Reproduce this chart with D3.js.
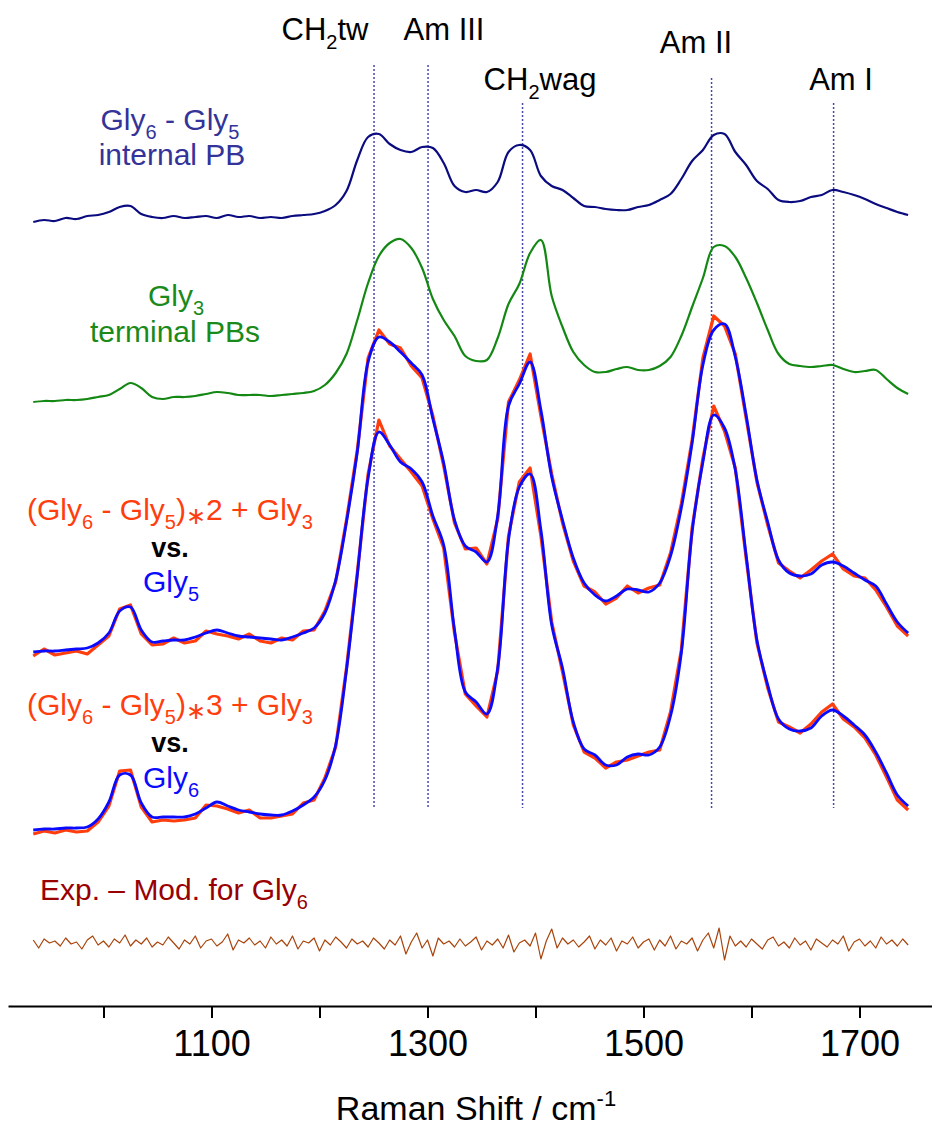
<!DOCTYPE html>
<html>
<head>
<meta charset="utf-8">
<script src="https://cdn.jsdelivr.net/npm/d3@7"></script>
<style>
  body { margin: 0; background: #fff; }
  svg { display: block; font-family: "Liberation Sans", Arial, sans-serif; }
  text { white-space: pre; }
</style>
</head>
<body>
<svg id="chart" width="932" height="1137"></svg>
<script>
// Raman shift grid (cm-1) shared by the main spectra
const shift = [935,945,955,965,975,985,995,1005,1015,1025,1035,1045,1055,1065,1075,1085,1095,1105,1115,1125,
  1135,1145,1155,1165,1175,1185,1195,1205,1215,1225,1235,1245,1255,1265,1275,1285,1295,1305,1315,1325,
  1335,1345,1355,1365,1375,1385,1395,1405,1415,1425,1435,1445,1455,1465,1475,1485,1495,1505,1515,1525,
  1535,1545,1555,1565,1575,1585,1595,1605,1615,1625,1635,1645,1655,1665,1675,1685,1695,1705,1715,1725,
  1735,1745];

// intensities (arb. units, already offset for stacking)
const gly6MinusGly5 = [784,786,785,788,787,790,791,794,799,800,792,789,788,790,788,789,790,788,791,789,
  790,788,789,788,790,791,792,795,801,815,846,869,872,862,856,854,859,858,843,820,
  814,816,814,824,854,861,856,830,820,816,808,800,799,797,796,796,799,801,806,812,
  827,845,856,871,872,854,841,825,817,806,804,805,809,811,816,814,811,807,802,798,
  794,791];

const gly3 = [604,605,605,606,606,607,609,611,617,623,618,609,607,609,609,610,612,614,613,611,
  611,611,610,611,612,613,615,621,633,652,686,723,750,763,767,758,738,707,686,670,
  650,645,646,668,702,722,753,766,710,679,654,641,634,634,637,639,636,636,640,649,
  670,699,728,759,760,749,728,703,676,652,642,640,639,640,641,637,634,635,636,627,
  618,612];

const model2 = [350,357,351,353,355,352,361,370,397,401,372,361,362,368,363,365,375,372,370,367,
  372,365,363,368,366,375,376,395,424,486,556,648,676,662,658,640,628,590,540,483,
  457,458,442,487,604,626,652,590,532,483,445,420,414,402,408,420,413,418,421,453,
  502,566,648,690,680,652,588,524,481,443,435,428,436,445,452,437,430,428,416,399,
  380,370];

const gly5 = [354,355,355,356,357,358,363,373,395,399,376,364,365,366,366,369,373,376,373,370,
  369,368,367,366,369,373,378,393,426,484,554,644,669,664,654,643,631,587,543,486,
  460,454,444,490,600,622,644,596,529,486,448,423,411,405,410,417,416,414,423,450,
  498,563,641,676,682,649,591,526,484,446,433,430,432,441,444,440,433,426,420,402,
  384,373];

const model3 = [172,175,173,176,174,175,184,200,235,236,199,184,186,185,186,188,201,200,197,193,
  196,188,188,190,192,203,206,228,259,338,433,532,586,560,547,534,520,487,458,373,
  312,300,289,335,470,524,538,470,384,334,281,254,248,238,244,246,250,254,256,294,
  356,478,548,600,575,538,448,363,318,284,279,273,282,294,302,287,279,268,251,229,
  206,196];

const gly6 = [176,177,177,178,178,179,187,204,231,231,203,189,189,189,189,192,198,204,200,196,
  194,192,191,191,195,201,209,226,261,336,431,528,574,561,544,537,524,490,461,376,
  314,304,292,338,466,519,532,476,381,338,284,257,251,241,241,249,252,251,259,290,
  353,474,544,591,578,536,451,366,321,287,277,275,278,290,296,290,281,271,254,233,
  211,200];

// residual Exp. - Mod. for Gly6, finer grid
const residShift = [935,940,945,950,955,960,965,970,975,980,985,990,995,1000,1005,1010,1015,1020,1025,1030,1035,
  1040,1045,1050,1055,1060,1065,1070,1075,1080,1085,1090,1095,1100,1105,1110,1115,1120,1125,1130,1135,
  1140,1145,1150,1155,1160,1165,1170,1175,1180,1185,1190,1195,1200,1205,1210,1215,1220,1225,1230,1235,
  1240,1245,1250,1255,1260,1265,1270,1275,1280,1285,1290,1295,1300,1305,1310,1315,1320,1325,1330,1335,
  1340,1345,1350,1355,1360,1365,1370,1375,1380,1385,1390,1395,1400,1405,1410,1415,1420,1425,1430,1435,
  1440,1445,1450,1455,1460,1465,1470,1475,1480,1485,1490,1495,1500,1505,1510,1515,1520,1525,1530,1535,
  1540,1545,1550,1555,1560,1565,1570,1575,1580,1585,1590,1595,1600,1605,1610,1615,1620,1625,1630,1635,
  1640,1645,1650,1655,1660,1665,1670,1675,1680,1685,1690,1695,1700,1705,1710,1715,1720,1725,1730,1735,1740,1745];

const residual = [66,58,67,63,65,60,68,62,64,57,66,70,61,65,59,67,63,71,60,66,62,
  68,59,64,61,69,63,57,66,62,70,58,65,67,60,64,72,56,66,63,68,
  61,65,58,69,62,66,60,70,57,65,63,68,55,66,61,69,64,58,67,62,
  65,59,68,63,57,66,61,70,52,64,73,58,66,50,68,62,65,59,67,60,
  64,69,56,65,61,67,58,71,54,63,66,60,73,47,65,77,58,68,62,66,
  59,64,70,57,66,61,68,55,65,62,69,58,64,67,56,66,60,70,57,65,
  62,68,55,66,73,58,78,46,70,60,65,59,67,62,57,66,69,60,64,58,
  68,61,65,56,67,63,59,66,62,70,55,64,67,60,65,58,69,62,66,60,67,61];

// band assignments (cm-1) and their names
const bandShift = [1250.5, 1300.5, 1388, 1563, 1676];
const bandNames = [
  [['CH'], ['2', 'sub'], ['tw']],
  [['Am III']],
  [['CH'], ['2', 'sub'], ['wag']],
  [['Am II']],
  [['Am I']],
];

const tickValues = [1000, 1100, 1200, 1300, 1400, 1500, 1600, 1700];
const labelledTicks = [1100, 1300, 1500, 1700];

// ---- layout ----
const axisY = 1006;
const svg = d3.select('#chart');

const x = d3.scaleLinear().domain([911.6, 1767.1]).range([8, 932]);
const y = d3.scaleLinear().domain([0, 1000]).range([axisY, axisY - 1000]);

// text with sub/superscripts; mode 'star' = small centred asterisk
function richText(g, px, py, parts, o) {
  const t = g.append('text')
    .attr('x', px).attr('y', py)
    .attr('text-anchor', o.anchor || 'middle')
    .attr('font-size', o.size)
    .attr('font-weight', o.weight || 'normal')
    .attr('fill', o.color || '#000');
  let cur = 0;
  parts.forEach(([str, mode]) => {
    const ts = t.append('tspan').text(str);
    let target = 0;
    if (mode === 'sub') target = o.size * 0.3;
    if (mode === 'sup') target = -o.size * 0.42;
    if (mode === 'star') target = o.size * 0.12;
    if (target !== cur) ts.attr('dy', target - cur);
    cur = target;
    if (mode === 'sub' || mode === 'sup') ts.attr('font-size', Math.round(o.size * 0.65));
    if (mode === 'star') ts.attr('font-size', Math.round(o.size * 0.8));
  });
  return t;
}

// dotted band lines
const bandTop = [65, 65, 103, 78, 103];
const bandLabelY = [40, 40, 90, 53, 90];
const bandLabelX = [325, 444, 540, 696, 841];
const bands = svg.append('g');
bandShift.forEach((s, i) => {
  bands.append('line')
    .attr('x1', x(s)).attr('x2', x(s))
    .attr('y1', bandTop[i]).attr('y2', 808)
    .attr('stroke', '#4848a8')
    .attr('stroke-width', 1.5)
    .attr('stroke-dasharray', '2,2');
  richText(bands, bandLabelX[i], bandLabelY[i], bandNames[i], { size: 31, color: '#000' });
});

// spectra
const smooth = d3.line().x(d => x(d[0])).y(d => y(d[1])).curve(d3.curveCatmullRom.alpha(0.5));
const jagged = d3.line().x(d => x(d[0])).y(d => y(d[1]));
const series = [
  { xs: shift, ys: gly6MinusGly5, color: '#0b0b80', w: 2.2, gen: smooth },
  { xs: shift, ys: gly3, color: '#138813', w: 2.2, gen: smooth },
  { xs: shift, ys: model2, color: '#ff3d0d', w: 3.2, gen: jagged },
  { xs: shift, ys: gly5, color: '#0a0aff', w: 2.8, gen: smooth },
  { xs: shift, ys: model3, color: '#ff3d0d', w: 3.2, gen: jagged },
  { xs: shift, ys: gly6, color: '#0a0aff', w: 2.8, gen: smooth },
  { xs: residShift, ys: residual, color: '#a8440c', w: 1.2, gen: jagged },
];
svg.append('g').selectAll('path')
  .data(series)
  .join('path')
  .attr('d', d => d.gen(d3.zip(d.xs, d.ys)))
  .attr('fill', 'none')
  .attr('stroke', d => d.color)
  .attr('stroke-width', d => d.w)
  .attr('stroke-linejoin', 'round');

// spectrum labels
const lab = svg.append('g');
richText(lab, 170, 130, [['Gly'], ['6', 'sub'], [' - Gly'], ['5', 'sub']], { size: 30, color: '#333399' });
richText(lab, 172, 165, [['internal PB']], { size: 30, color: '#333399' });
richText(lab, 176, 306, [['Gly'], ['3', 'sub']], { size: 30, color: '#1a8a1a' });
richText(lab, 175, 342, [['terminal PBs']], { size: 30, color: '#1a8a1a' });

richText(lab, 170, 520, [['(Gly'], ['6', 'sub'], [' - Gly'], ['5', 'sub'], [')'], ['\u2217', 'star'], ['2 + Gly'], ['3', 'sub']], { size: 30, color: '#ff3d0d' });
richText(lab, 170, 557, [['vs.']], { size: 27, color: '#000', weight: 'bold' });
richText(lab, 171, 592, [['Gly'], ['5', 'sub']], { size: 30, color: '#0a0aff' });

richText(lab, 170, 715, [['(Gly'], ['6', 'sub'], [' - Gly'], ['5', 'sub'], [')'], ['\u2217', 'star'], ['3 + Gly'], ['3', 'sub']], { size: 30, color: '#ff3d0d' });
richText(lab, 170, 752, [['vs.']], { size: 27, color: '#000', weight: 'bold' });
richText(lab, 171, 788, [['Gly'], ['6', 'sub']], { size: 30, color: '#0a0aff' });

richText(lab, 40, 900, [['Exp. \u2013 Mod. for Gly'], ['6', 'sub']], { size: 30, color: '#990000', anchor: 'start' });

// x axis
const xAxis = d3.axisBottom(x)
  .tickValues(tickValues)
  .tickSize(12)
  .tickSizeOuter(0)
  .tickPadding(12)
  .tickFormat(d => labelledTicks.includes(d) ? d : '');
const ax = svg.append('g')
  .attr('transform', `translate(0,${axisY})`)
  .call(xAxis);
ax.select('.domain').attr('stroke', '#000').attr('stroke-width', 2);
ax.selectAll('.tick line').attr('stroke', '#000').attr('stroke-width', 2);
ax.selectAll('.tick text')
  .attr('fill', '#000')
  .attr('font-size', 36)
  .attr('font-family', '"Liberation Sans", Arial, sans-serif');

richText(svg, 476, 1120, [['Raman Shift / cm'], ['-1', 'sup']], { size: 34, color: '#000' });
</script>
</body>
</html>
